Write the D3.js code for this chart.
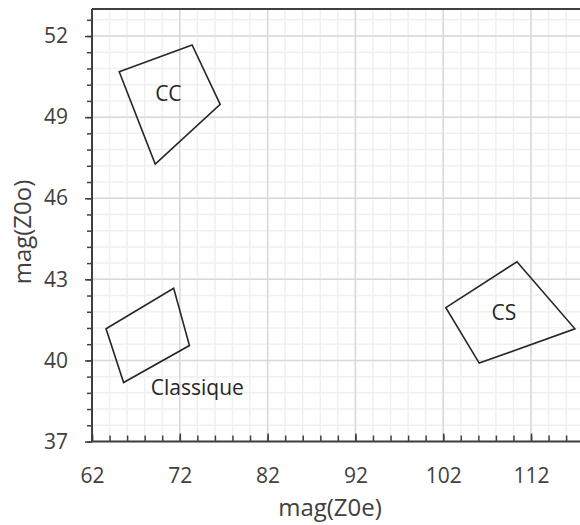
<!DOCTYPE html>
<html>
<head>
<meta charset="utf-8">
<script src="https://cdn.jsdelivr.net/npm/d3@7"></script>
<style>
  html, body { margin: 0; padding: 0; background: #fff; }
  svg { display: block; font-family: "Open Sans", sans-serif; }
</style>
</head>
<body>
<svg id="chart" width="580" height="525"></svg>
<script>
// ---- data ----
const xMajorTicks = [62, 72, 82, 92, 102, 112];
const yMajorTicks = [37, 40, 43, 46, 49, 52];
const xTitle = "mag(Z0e)";
const yTitle = "mag(Z0o)";

const shapeNames = ["CC", "Classique", "CS"];
const ccX = [65.1, 73.4, 76.6, 69.2];
const ccY = [50.68, 51.67, 49.47, 47.26];
const classiqueX = [63.6, 71.3, 73.1, 65.6];
const classiqueY = [41.17, 42.67, 40.55, 39.18];
const csX = [102.3, 110.4, 117.0, 106.1];
const csY = [41.95, 43.65, 41.17, 39.9];
// label anchor points (data units)
const labelX = [70.7, 68.7, 108.9];
const labelY = [49.85, 39.0, 41.75];
const labelAnchor = ["middle", "start", "middle"];

// ---- drawing ----
const svg = d3.select("#chart");
const x = d3.scaleLinear().domain([62, 118]).range([92, 583.7]);
const y = d3.scaleLinear().domain([37, 53]).range([441.5, 9]);

const xMinor = d3.range(62, 118.01, 2);
const yMinor = d3.range(0, 27).map(i => +(37 + i * 0.6).toFixed(2)).filter(v => v <= 53);

const grid = svg.append("g");
// minor grid
grid.selectAll(".vminor").data(xMinor).join("line")
  .attr("x1", d => x(d)).attr("x2", d => x(d))
  .attr("y1", y(37)).attr("y2", y(53))
  .attr("stroke", "#f0f0f0").attr("stroke-width", 1.5);
grid.selectAll(".hminor").data(yMinor).join("line")
  .attr("class", "hminor")
  .attr("x1", x(62)).attr("x2", x(118))
  .attr("y1", d => y(d)).attr("y2", d => y(d))
  .attr("stroke", "#f0f0f0").attr("stroke-width", 1.5);
// major grid
grid.selectAll(".vmajor").data(xMajorTicks).join("line")
  .attr("class", "vmajor")
  .attr("x1", d => x(d)).attr("x2", d => x(d))
  .attr("y1", y(37)).attr("y2", y(53))
  .attr("stroke", "#d9d9d9").attr("stroke-width", 1.5);
grid.selectAll(".hmajor").data(yMajorTicks).join("line")
  .attr("class", "hmajor")
  .attr("x1", x(62)).attr("x2", x(118))
  .attr("y1", d => y(d)).attr("y2", d => y(d))
  .attr("stroke", "#d9d9d9").attr("stroke-width", 1.5);

// top border
svg.append("line")
  .attr("x1", x(62)).attr("x2", x(118))
  .attr("y1", y(53)).attr("y2", y(53))
  .attr("stroke", "#404040").attr("stroke-width", 2);

// X axis: ticks pointing inward (up)
const xAxisG = svg.append("g").attr("transform", `translate(0,${y(37)})`);
xAxisG.append("g")
  .call(d3.axisBottom(x).tickValues(xMinor).tickSize(-6).tickFormat(""))
  .call(g => g.select(".domain").remove())
  .call(g => g.selectAll("line").attr("stroke", "#404040").attr("stroke-width", 1.5));
xAxisG.append("g")
  .call(d3.axisBottom(x).tickValues(xMajorTicks).tickSize(-8).tickPadding(0).tickFormat(d3.format("d")))
  .call(g => g.select(".domain").attr("stroke", "#404040").attr("stroke-width", 2).attr("d", `M${x(62)},0H${x(118)}`))
  .call(g => g.selectAll("line").attr("stroke", "#404040").attr("stroke-width", 1.5))
  .call(g => g.selectAll("text").attr("y", 41).attr("dy", 0)
      .attr("font-size", 21).attr("fill", "#404040").attr("font-family", "Open Sans"));

// Y axis: ticks pointing outward (left)
const yAxisG = svg.append("g").attr("transform", `translate(${x(62)},0)`);
yAxisG.append("g")
  .call(d3.axisLeft(y).tickValues(yMinor).tickSize(5).tickFormat(""))
  .call(g => g.select(".domain").remove())
  .call(g => g.selectAll("line").attr("stroke", "#404040").attr("stroke-width", 1.5));
yAxisG.append("g")
  .call(d3.axisLeft(y).tickValues(yMajorTicks).tickSize(7).tickPadding(17).tickFormat(d3.format("d")))
  .call(g => g.select(".domain").attr("stroke", "#404040").attr("stroke-width", 2).attr("d", `M0,${y(53)}V${y(37)}`))
  .call(g => g.selectAll("line").attr("stroke", "#404040").attr("stroke-width", 1.5))
  .call(g => g.selectAll("text").attr("font-size", 21).attr("fill", "#404040").attr("font-family", "Open Sans"));

// axis titles
svg.append("text")
  .attr("x", 330).attr("y", 516)
  .attr("text-anchor", "middle")
  .attr("font-size", 24).attr("fill", "#404040")
  .text(xTitle);
svg.append("text")
  .attr("transform", `translate(31,${232}) rotate(-90)`)
  .attr("text-anchor", "middle")
  .attr("font-size", 24).attr("fill", "#404040")
  .text(yTitle);

// shapes
const shapes = [
  ccX.map((v, i) => [v, ccY[i]]),
  classiqueX.map((v, i) => [v, classiqueY[i]]),
  csX.map((v, i) => [v, csY[i]])
];
const lineGen = d3.line().x(d => x(d[0])).y(d => y(d[1])).curve(d3.curveLinearClosed);
svg.append("g").selectAll("path").data(shapes).join("path")
  .attr("d", lineGen)
  .attr("fill", "none")
  .attr("stroke", "#262626")
  .attr("stroke-width", 1.6)
  .attr("stroke-linejoin", "miter");

svg.append("g").selectAll("text").data(shapeNames).join("text")
  .attr("x", (d, i) => x(labelX[i]))
  .attr("y", (d, i) => y(labelY[i]))
  .attr("dy", "0.35em")
  .attr("text-anchor", (d, i) => labelAnchor[i])
  .attr("font-size", 21).attr("fill", "#262626")
  .text(d => d);
</script>
</body>
</html>
